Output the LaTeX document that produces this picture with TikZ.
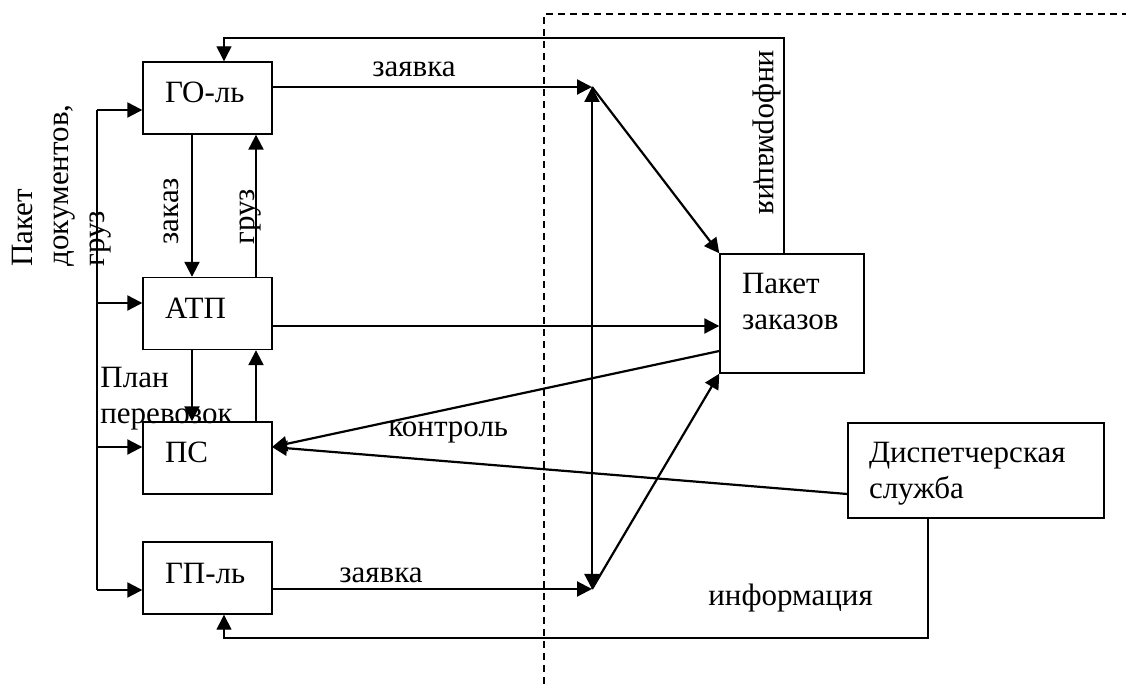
\documentclass[tikz,border=0pt]{standalone}
\usepackage{fontspec}
\setmainfont{Liberation Serif}
\usetikzlibrary{arrows.meta,positioning,calc}
\hyphenpenalty=10000
\exhyphenpenalty=10000

\begin{document}
\begin{tikzpicture}[x=0.5pt, y=-0.5pt,
   >={Triangle[length=7.5pt,width=7.5pt]},
   every node/.style={font=\fontsize{15.5}{18}\selectfont},
   blk/.style={draw, line width=0.7pt, align=left, inner xsep=11pt,
               minimum height=36pt, text width=42.5pt},
   blkone/.style={blk, text height=10.5pt, text depth=5.5pt},
   flow/.style={->, line width=1.1pt},
   back/.style={->, line width=0.7pt},
   lbl/.style={inner sep=0pt}]

\useasboundingbox (0,0) rectangle (1126,684);

% boundary of the dispatch zone
\draw[line width=0.6pt, dash pattern=on 3.5pt off 2.5pt]
   (544,684) -- (544,14) -- (1126,14);

% participants
\node[blkone] (go)  at (207.5,98)    {ГО-ль};
\node[blkone] (atp) at (207.5,313.5) {АТП};
\node[blkone] (ps)  at (207.5,458)   {ПС};
\node[blkone] (gp)  at (207.5,578)   {ГП-ль};
\node[blk, minimum height=59.5pt, text width=50pt,
      text height=10pt, text depth=29.5pt] (pak) at (792,313.5)
   {Пакет\\заказов};
\node[blk, minimum height=47.5pt, inner xsep=10.5pt, text width=107pt,
      text height=10.5pt, text depth=18pt]
   (disp) at (976,470.5) {Диспетчерская\\служба};

% junctions
\coordinate (j1) at (592,87);
\coordinate (j2) at (592,589);

% left bus
\coordinate (b1) at (97,110);
\coordinate (b2) at (97,303);
\coordinate (b3) at (97,447);
\coordinate (b4) at (97,590);
\draw[line width=1.1pt] (b1) -- (b4);
\draw[flow] (b1) -- (go.west |- b1);
\draw[flow] (b2) -- (atp.west |- b2);
\draw[flow] (b3) -- (ps.west |- b3);
\draw[flow] (b4) -- (gp.west |- b4);
\node[lbl, rotate=90, anchor=north west, align=left] (docs) at (12,267)
   {Пакет\\документов,\\груз};

% between the boxes
\draw[flow] (go.south -| 192,0) -- (atp.north -| 192,0);
\draw[flow] (atp.north -| 256,0) -- (go.south -| 256,0);
\draw[flow] (atp.south -| 192,0) -- (ps.north -| 192,0);
\draw[flow] (ps.north -| 256,0) -- (atp.south -| 256,0);
\node[lbl, rotate=90, anchor=base west] (zak) at (178,245) {заказ};
\node[lbl, rotate=90, anchor=base west] (gr) at (254,245) {груз};
\node[lbl, anchor=north west, align=left] (plan) at (100,367)
   {План\\перевозок};

% requests
\draw[flow] (go.east |- j1) -- (j1);
\draw[flow] (gp.east |- j2) -- (j2);
\node[lbl, anchor=base west] (z1) at (372,77) {заявка};
\node[lbl, anchor=base west] (z2) at (339,582) {заявка};
\draw[flow, <->] (j2) -- (j1);
\draw[flow] (j1) -- (pak.north west);
\draw[flow] (j2) -- (pak.south west);
\draw[flow] (atp.east |- 0,326) -- (pak.west |- 0,326);

% control
\coordinate (psin) at (272,447);
\draw[flow] (pak.west |- 0,351) -- (psin);
\draw[flow] (disp.west |- 0,494) -- (psin);
\node[lbl, anchor=base west] (ctl) at (388,437) {контроль};

% information feedback
\draw[back] (pak.north -| 784,0) |- (224,38) -- (go.north -| 224,0);
\draw[back] (disp.south -| 928,0) |- (224,638) -- (gp.south -| 224,0);
\node[lbl, rotate=-90, anchor=base west] (inf1) at (759,50) {информация};
\node[lbl, anchor=base west] (inf2) at (708,605) {информация};

\end{tikzpicture}
\end{document}
